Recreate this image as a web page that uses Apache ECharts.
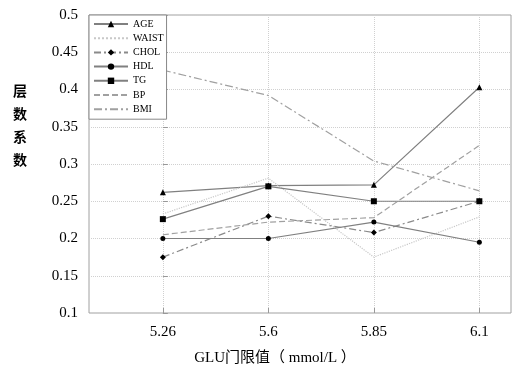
<!DOCTYPE html>
<html><head><meta charset="utf-8">
<script src="https://cdn.jsdelivr.net/npm/echarts@6/dist/echarts.min.js"></script>
<style>html,body{margin:0;padding:0;background:#fff}#c{width:515px;height:374px}</style>
</head><body><div id="c"></div>
<script>
const categories = ['5.26', '5.6', '5.85', '6.1'];
const AGE   = [0.262, 0.271, 0.272, 0.403];
const WAIST = [0.233, 0.281, 0.175, 0.229];
const CHOL  = [0.175, 0.230, 0.208, 0.250];
const HDL   = [0.200, 0.200, 0.222, 0.195];
const TG    = [0.226, 0.270, 0.250, 0.250];
const BP    = [0.205, 0.222, 0.228, 0.325];
const BMI   = [0.426, 0.392, 0.304, 0.264];
const seriesNames = ['AGE','WAIST','CHOL','HDL','TG','BP','BMI'];
const seriesData = [AGE, WAIST, CHOL, HDL, TG, BP, BMI];

const styles = {
  AGE:   {symbol:'triangle', symbolSize:6, line:{color:'#808080', width:1.2, type:'solid'}},
  WAIST: {symbol:'none', symbolSize:0, line:{color:'#c8c8c8', width:1.2, type:'dotted'}},
  CHOL:  {symbol:'diamond', symbolSize:6, line:{color:'#8a8a8a', width:1.2, type:[7,3,2,3]}},
  HDL:   {symbol:'circle', symbolSize:5, line:{color:'#808080', width:1.2, type:'solid'}},
  TG:    {symbol:'rect', symbolSize:6, line:{color:'#808080', width:1.2, type:'solid'}},
  BP:    {symbol:'none', symbolSize:0, line:{color:'#a0a0a0', width:1.2, type:[6,3]}},
  BMI:   {symbol:'none', symbolSize:0, line:{color:'#a0a0a0', width:1.2, type:[8,3,2,3]}}
};

const series = seriesNames.map((n, i) => ({
  name: n,
  type: 'line',
  data: seriesData[i].map((v, j) => [j, v]),
  symbol: styles[n].symbol,
  symbolSize: styles[n].symbolSize,
  showSymbol: styles[n].symbol !== 'none',
  lineStyle: styles[n].line,
  itemStyle: {color: styles[n].symbol === 'none' ? 'rgba(0,0,0,0)' : '#000', borderWidth: 0},
  emphasis: {disabled: true},
  animation: false,
  z: 3
}));

const chart = echarts.init(document.getElementById('c'));
chart.setOption({
  backgroundColor: '#fff',
  animation: false,
  grid: {left: 89, right: 4, top: 15, bottom: 61, show: true, borderColor: '#a0a0a0', borderWidth: 1, backgroundColor: 'transparent'},
  graphic: [{
    type: 'text', left: 13, top: 79,
    style: {text: '层\n数\n系\n数', font: 'bold 14px "Noto Sans CJK SC"', lineHeight: 23, fill: '#000'}
  }],
  legend: {
    orient: 'vertical',
    left: 89, top: 15,
    backgroundColor: '#fff',
    borderColor: '#888', borderWidth: 1, borderRadius: 0,
    padding: [4, 3, 5, 4],
    itemWidth: 34, itemHeight: 8, itemGap: 4.2,
    textStyle: {fontFamily: 'Liberation Serif', fontSize: 10, color: '#000'},
    data: seriesNames
  },
  xAxis: {
    type: 'value',
    min: -0.7, max: 3.3,
    name: 'GLU门限值（ mmol/L ）',
    nameLocation: 'middle', nameGap: 38,
    nameTextStyle: {fontFamily: 'Liberation Serif, Noto Sans CJK SC', fontSize: 15, color: '#000', padding: [0, 50, 0, 0]},
    axisLine: {show: false},
    axisTick: {show: true, inside: true, length: 5, lineStyle: {color: '#999'}, customValues: [0,1,2,3]},
    axisLabel: {customValues: [0,1,2,3], formatter: v => categories[Math.round(v)], fontFamily: 'Liberation Serif', fontSize: 15, color: '#000', margin: 12},
    splitLine: {show: true, lineStyle: {color: '#d0d0d0', type: 'dotted'}}
  },
  yAxis: {
    type: 'value',
    min: 0.1, max: 0.5, interval: 0.05,
    axisLine: {show: false},
    axisTick: {show: true, inside: true, length: 5, lineStyle: {color: '#999'}},
    axisLabel: {formatter: v => String(+v.toFixed(2)), fontFamily: 'Liberation Serif', fontSize: 15, color: '#000', margin: 11},
    splitLine: {show: true, lineStyle: {color: '#d0d0d0', type: 'dotted'}}
  },
  series: series
});
</script></body></html>
